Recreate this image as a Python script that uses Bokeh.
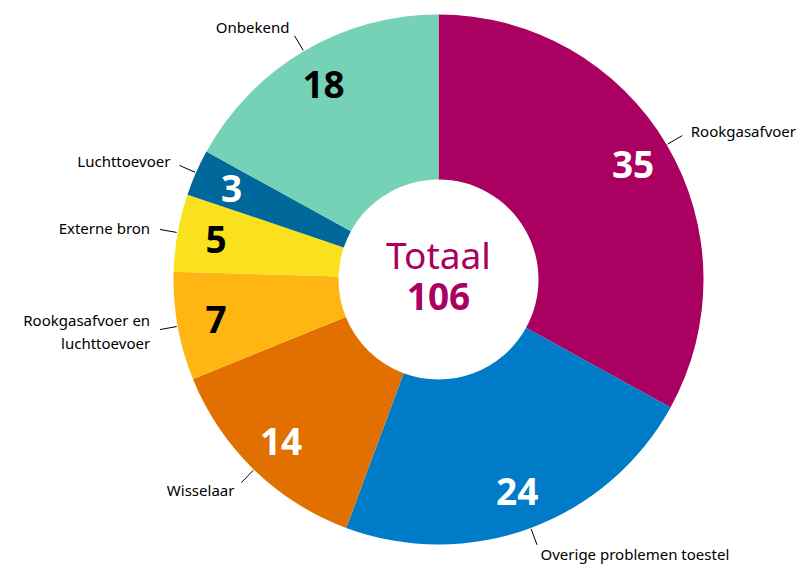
import math
from bokeh.plotting import figure
from bokeh.models import ColumnDataSource, Range1d, Label
from bokeh.embed import file_html
from bokeh.resources import INLINE
from bokeh.core.properties import value

# ---- data ----
categories = ["Rookgasafvoer", "Overige problemen toestel", "Wisselaar",
              "Rookgasafvoer en\nluchttoevoer", "Externe bron", "Luchttoevoer", "Onbekend"]
counts = [35, 24, 14, 7, 5, 3, 18]
total_label = "Totaal"

# ---- style ----
slice_colors = ["#A90061", "#007BC7", "#E17000", "#FFB612", "#F9E11E", "#01689B", "#76D2B6"]
number_colors = ["white", "white", "white", "black", "black", "white", "black"]
FONT = "Noto Sans"
R_OUT, R_IN = 265, 100
R_NUM, R_L0, R_L1, R_TXT = 226, 266, 283, 293

W, H = 798, 564
CX, CY = 438, 279  # centre of donut in canvas pixels (from top-left)

total = sum(counts)
cum = 0
starts, ends, mids = [], [], []
for c in counts:
    a0 = cum / total * 2 * math.pi
    cum += c
    a1 = cum / total * 2 * math.pi
    # clockwise from top -> bokeh counter-clockwise from +x
    starts.append(math.pi / 2 - a1)
    ends.append(math.pi / 2 - a0)
    mids.append((a0 + a1) / 2)

src = ColumnDataSource(dict(start=starts, end=ends, color=slice_colors))

p = figure(width=W, height=H, output_backend="svg", toolbar_location=None,
           x_range=Range1d(-CX, W - CX), y_range=Range1d(CY - H, CY),
           x_axis_type=None, y_axis_type=None, min_border=0,
           background_fill_color="white", border_fill_color="white")
p.outline_line_color = None
p.grid.visible = False

p.annular_wedge(x=0, y=0, inner_radius=R_IN, outer_radius=R_OUT,
                start_angle="start", end_angle="end", fill_color="color",
                line_color=None, source=src)

# numbers inside slices
nx = [R_NUM * math.sin(m) for m in mids]
ny = [R_NUM * math.cos(m) for m in mids]
p.text(x=nx, y=ny, text=[str(c) for c in counts], text_color=number_colors,
       text_font=value(FONT), text_font_style="bold", text_font_size="37px",
       text_align="center", text_baseline="middle")

# leader lines
p.segment(x0=[R_L0 * math.sin(m) for m in mids], y0=[R_L0 * math.cos(m) for m in mids],
          x1=[R_L1 * math.sin(m) for m in mids], y1=[R_L1 * math.cos(m) for m in mids],
          line_color="black", line_width=1)

# outer category labels
for cat, m in zip(categories, mids):
    tx, ty = R_TXT * math.sin(m), R_TXT * math.cos(m)
    p.text(x=[tx], y=[ty], text=[cat], text_color="black",
           text_font=value(FONT), text_font_size="15px",
           text_align="left" if tx > 0 else "right", text_baseline="middle",
           text_line_height=1.15)

# centre total
p.add_layout(Label(x=0, y=25, text=total_label, text_color="#A90061",
                   text_font=FONT, text_font_size="37px",
                   text_align="center", text_baseline="middle"))
p.add_layout(Label(x=0, y=-17, text=str(total), text_color="#A90061",
                   text_font=FONT, text_font_size="37px", text_font_style="bold",
                   text_align="center", text_baseline="middle"))

open("out.html", "w").write(file_html(p, INLINE))
